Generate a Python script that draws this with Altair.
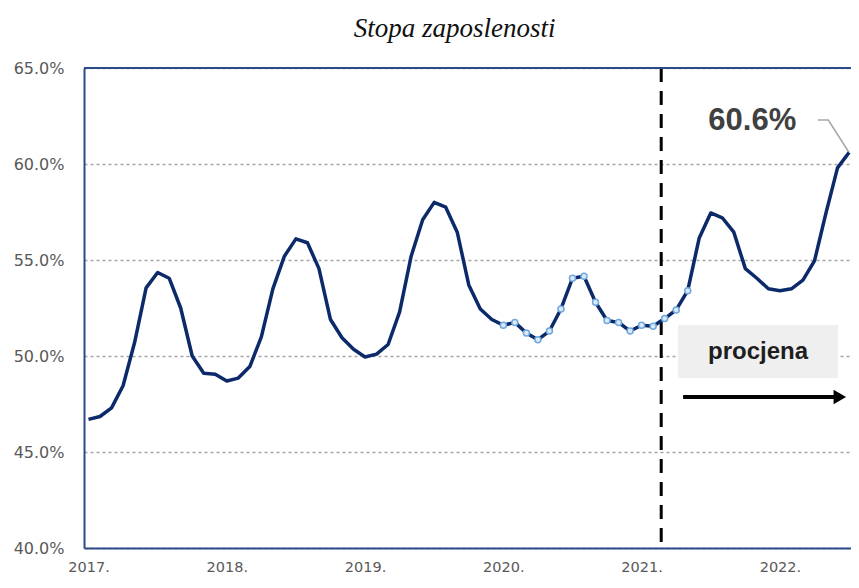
import altair as alt
import pandas as pd

# ---- data ----
months = list(range(67))  # Jan 2017 .. Jul 2022
rate = [
    46.7, 46.85, 47.3, 48.45, 50.7, 53.55, 54.35, 54.05, 52.5, 50.0, 49.1, 49.05,
    48.7, 48.85, 49.45, 51.0, 53.5, 55.2, 56.1, 55.9, 54.55, 51.9, 50.95, 50.35,
    49.95, 50.1, 50.6, 52.3, 55.2, 57.1, 58.0, 57.75, 56.45, 53.7, 52.45, 51.9,
    51.6, 51.75, 51.2, 50.85, 51.3, 52.45, 54.05, 54.15, 52.8, 51.85, 51.75, 51.3,
    51.6, 51.55, 51.95, 52.4, 53.4, 56.15, 57.45, 57.2, 56.45, 54.55, 54.05, 53.5,
    53.4, 53.5, 53.95, 54.95, 57.45, 59.8, 60.6,
]
marked_months = list(range(36, 53))
year_ticks = [0, 12, 24, 36, 48, 60]
year_labels = ["2017.", "2018.", "2019.", "2020.", "2021.", "2022."]
y_ticks = [40, 45, 50, 55, 60, 65]
title_text = "Stopa zaposlenosti"

forecast_start = [49.7]
box = {"x": [51.16], "x2": [65.04], "y": [51.61], "y2": [48.85]}
box_label = {"x": [58.1], "y": [50.22], "t": ["procjena"]}
arrow = {"x": [51.6], "x2": [64.7], "y": [47.86]}
arrow_head = {"x": [65.2], "y": [47.86]}
last_label = {"x": [57.6], "y": [62.24], "t": ["60.6%"]}
leader = {"x": [63.3, 64.2, 66.0], "y": [62.29, 62.29, 60.6], "o": [0, 1, 2]}

NAVY = "#0c2a6a"
FRAME = "#2c4a8a"
LABEL = "#595959"

df = pd.DataFrame({"m": months, "v": rate})
dfm = df[df["m"].isin(marked_months)]

xs = alt.Scale(domain=[-0.39, 66.17], nice=False, zero=False)
ys = alt.Scale(domain=[40, 65], nice=False, zero=False)

label_expr = "[" + ",".join("'%s'" % s for s in year_labels) + "][round(datum.value/12)]"

x_axis = alt.Axis(
    values=year_ticks, labelExpr=label_expr, title=None, domainColor=FRAME,
    domainWidth=2, ticks=False, grid=False, labelPadding=12, labelFontSize=14.5,
    labelColor=LABEL, labelFont="DejaVu Sans",
)
y_axis = alt.Axis(
    values=y_ticks, labelExpr="format(datum.value,'.1f')+'%'", title=None,
    domainColor=FRAME, domainWidth=2, ticks=False, grid=True, gridDash=[3, 3],
    gridColor="#a6a6a6", gridWidth=1.5, labelPadding=20, labelFontSize=16,
    labelColor=LABEL, labelFont="DejaVu Sans",
)


def X(field):
    return alt.X(field, scale=xs, axis=x_axis)


def Y(field):
    return alt.Y(field, scale=ys, axis=y_axis)


line = alt.Chart(df).mark_line(color=NAVY, strokeWidth=3.5, strokeJoin="round").encode(
    x=X("m:Q"), y=Y("v:Q"),
)

points = alt.Chart(dfm).mark_point(
    shape="circle", filled=True, size=36, fill="#dbe9f7", stroke="#6fa8dc",
    strokeWidth=1.5, opacity=1,
).encode(x=X("m:Q"), y=Y("v:Q"))

top_border = alt.Chart(pd.DataFrame({"y": [65]})).mark_rule(
    color=FRAME, strokeWidth=2
).encode(y=Y("y:Q"))

vline = alt.Chart(pd.DataFrame({"x": forecast_start})).mark_rule(
    color="black", strokeWidth=3, strokeDash=[14, 9]
).encode(x=X("x:Q"))

rect = alt.Chart(pd.DataFrame(box)).mark_rect(color="#efefef").encode(
    x=X("x:Q"), x2="x2:Q", y=Y("y:Q"), y2="y2:Q",
)

rect_text = alt.Chart(pd.DataFrame(box_label)).mark_text(
    fontSize=24, fontWeight="bold", font="Liberation Sans", color="#1e1e1e"
).encode(x=X("x:Q"), y=Y("y:Q"), text="t:N")

arrow_line = alt.Chart(pd.DataFrame(arrow)).mark_rule(
    color="black", strokeWidth=4
).encode(x=X("x:Q"), x2="x2:Q", y=Y("y:Q"))

arrow_tip = alt.Chart(pd.DataFrame(arrow_head)).mark_point(
    shape="triangle-right", filled=True, size=210, color="black", opacity=1
).encode(x=X("x:Q"), y=Y("y:Q"))

big_label = alt.Chart(pd.DataFrame(last_label)).mark_text(
    fontSize=31, fontWeight="bold", font="Liberation Sans", color="#404040"
).encode(x=X("x:Q"), y=Y("y:Q"), text="t:N")

leader_line = alt.Chart(pd.DataFrame(leader)).mark_line(
    color="#a6a6a6", strokeWidth=1.5
).encode(x=X("x:Q"), y=Y("y:Q"), order="o:Q")

chart = alt.layer(
    vline, rect, rect_text, arrow_line, arrow_tip, leader_line, big_label,
    line, points, top_border,
).properties(
    width=767,
    height=480,
    autosize=alt.AutoSizeParams(type="none"),
    padding={"left": 76, "top": 60, "right": 0, "bottom": 28},
    title=alt.Title(
        title_text, font="Liberation Serif", fontSize=27, fontStyle="italic",
        fontWeight="normal", color="#111111", anchor="middle", dx=-13,
        offset=-4, baseline="alphabetic",
    ),
).configure_view(stroke=None)

chart.save("out.html", embed_options={"renderer": "svg", "actions": False})
